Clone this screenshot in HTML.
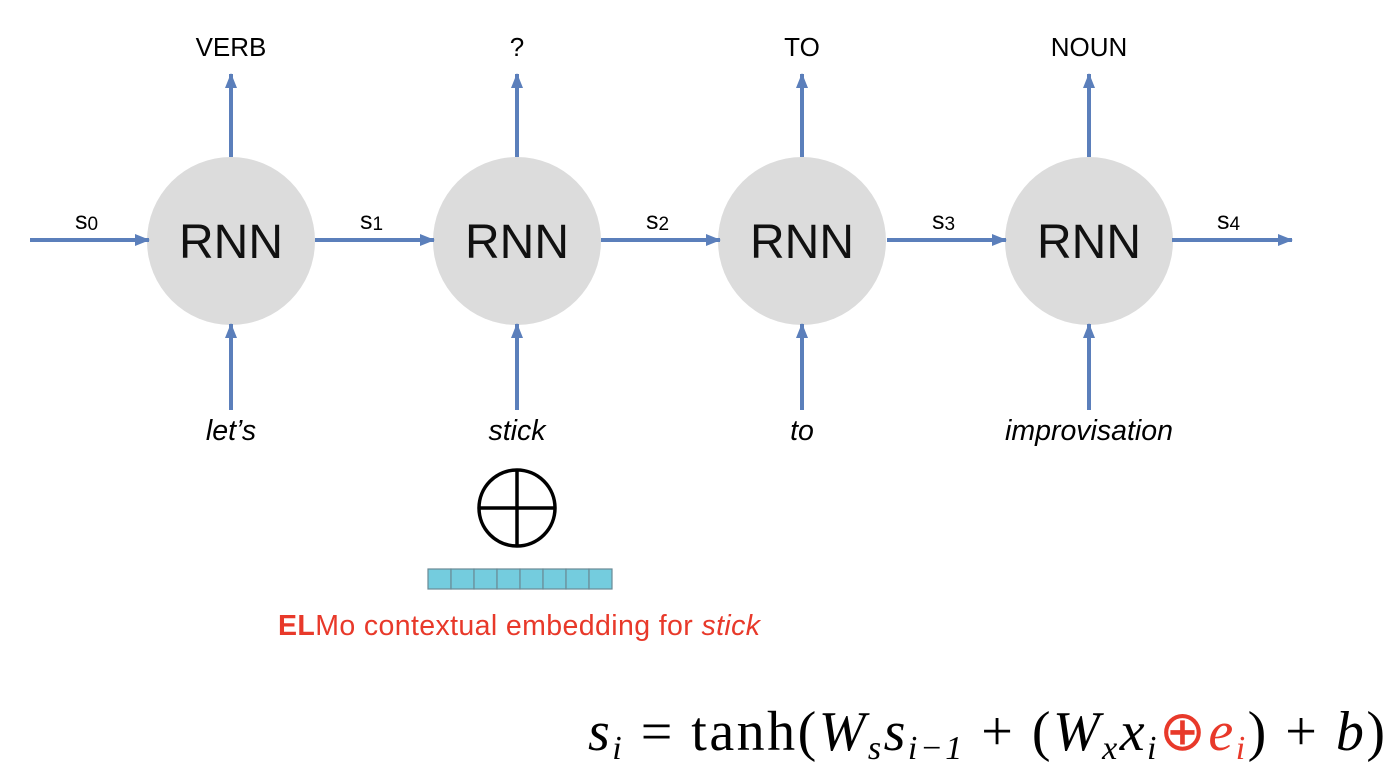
<!DOCTYPE html>
<html><head><meta charset="utf-8"><style>
body{margin:0;background:#fff}
svg{display:block}
.sans{font-family:"Liberation Sans",sans-serif}
.serif{font-family:"Liberation Serif",serif}
</style></head><body>
<svg width="1398" height="774" viewBox="0 0 1398 774">
<defs><marker id="ah" markerWidth="16" markerHeight="14" refX="14" refY="6" orient="auto" markerUnits="userSpaceOnUse"><path d="M0,0 L15,6 L0,12 z" fill="#5b7fbb"/></marker></defs>
<g id="g" class="sans"></g>
<g stroke="#000" stroke-width="3.5" fill="none">
<circle cx="517" cy="508" r="38"/><line x1="517" y1="470" x2="517" y2="546"/><line x1="479" y1="508" x2="555" y2="508"/></g>
<g id="emb"></g>
<text class="sans" x="278" y="635" font-size="28.5" fill="#e8392a" textLength="482"><tspan font-weight="bold">EL</tspan>Mo contextual embedding for <tspan font-style="italic">stick</tspan></text>
<text class="serif" x="588" y="750" font-size="56" textLength="797" lengthAdjust="spacing"><tspan font-style="italic">s</tspan><tspan font-size="34" font-style="italic" dy="9">i</tspan><tspan dy="-9"> = tanh(</tspan><tspan font-style="italic">W</tspan><tspan font-size="34" font-style="italic" dy="9">s</tspan><tspan font-style="italic" dy="-9">s</tspan><tspan font-size="34" font-style="italic" dy="9">i−1</tspan><tspan dy="-9"> + (</tspan><tspan font-style="italic">W</tspan><tspan font-size="34" font-style="italic" dy="9">x</tspan><tspan font-style="italic" dy="-9">x</tspan><tspan font-size="34" font-style="italic" dy="9">i</tspan><tspan fill="#e8392a" dy="-9">⊕</tspan><tspan fill="#e8392a" font-style="italic">e</tspan><tspan fill="#e8392a" font-size="34" font-style="italic" dy="9">i</tspan><tspan dy="-9">) + </tspan><tspan font-style="italic">b</tspan>)</text>
</svg>
<script>
const xs=[231,517,802,1089];
const tops=["VERB","?","TO","NOUN"];
const words=["let’s","stick","to","improvisation"];
const states=["0","1","2","3","4"];
const g=document.getElementById('g');
const NS="http://www.w3.org/2000/svg";
function mk(t,a,p){const e=document.createElementNS(NS,t);for(const k in a)e.setAttribute(k,a[k]);(p||g).appendChild(e);return e;}
xs.forEach((x,i)=>{
 const c=mk('circle',{cx:x,cy:241,r:84,fill:'#dcdcdc'});
 
 
 const t=mk('text',{x:x,y:258,'font-size':48,'text-anchor':'middle',fill:'#111'});t.textContent='RNN';
 
 
 const u=mk('line',{x1:x,y1:157,x2:x,y2:74,stroke:'#5b7fbb','stroke-width':4,'marker-end':'url(#ah)'});
 
 
 const d=mk('line',{x1:x,y1:410,x2:x,y2:324,stroke:'#5b7fbb','stroke-width':4,'marker-end':'url(#ah)'});
 
 
 const tl=mk('text',{x:x,y:56,'font-size':26,'text-anchor':'middle'});tl.textContent=tops[i];
 
 
 const w=mk('text',{x:x,y:440,'font-size':28.5,'text-anchor':'middle','font-style':'italic'});w.textContent=words[i];
 
 
});
const hx=[[30,149],[315,434],[601,720],[887,1006],[1172,1292]];
hx.forEach((h,i)=>{
 const l=mk('line',{x1:h[0],y1:240,x2:h[1],y2:240,stroke:'#5b7fbb','stroke-width':4,'marker-end':'url(#ah)'});
 
 
 const t=mk('text',{x:h[0]+45,y:229,'font-size':25});
 
 
 t.innerHTML='s<tspan font-size="19" dy="1">'+states[i]+'</tspan>';
});
const emb=document.getElementById('emb');
for(let k=0;k<8;k++){
 const r=mk('rect',{x:428+k*23,y:569,width:23,height:20,fill:'#74ccde',stroke:'#6a8a95','stroke-width':1.2},emb);
 
 
}
</script>
</body></html>
